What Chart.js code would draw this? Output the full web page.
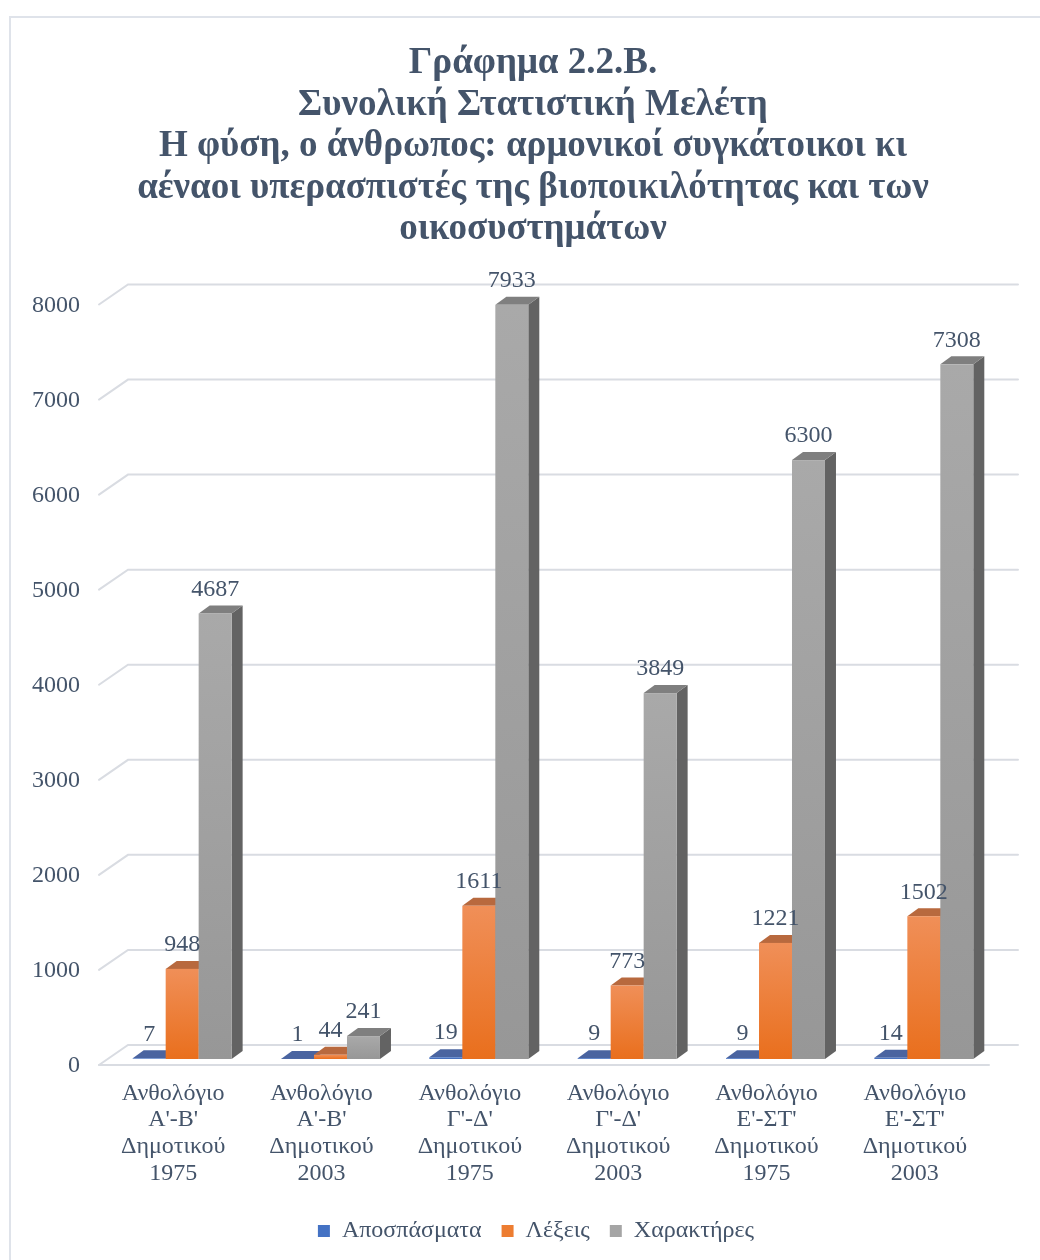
<!DOCTYPE html>
<html>
<head>
<meta charset="utf-8">
<script src="https://cdn.jsdelivr.net/npm/chart.js@4.4.1/dist/chart.umd.min.js"></script>
<style>
  html, body { margin: 0; padding: 0; background: #ffffff; overflow: hidden; }
  #frame { position: absolute; left: 9px; top: 16px; width: 1100px; height: 1300px;
           border-left: 2px solid #dfe3ea; border-top: 2px solid #dfe3ea; box-sizing: border-box; }
  #c { position: absolute; left: 0; top: 0; }
</style>
</head>
<body>
<div id="frame"></div>
<canvas id="c" width="1040" height="1260"></canvas>
<script>
const titleLines = [
  "Γράφημα 2.2.Β.",
  "Συνολική Στατιστική Μελέτη",
  "Η φύση, ο άνθρωπος: αρμονικοί συγκάτοικοι κι",
  "αέναοι υπερασπιστές της βιοποικιλότητας και των",
  "οικοσυστημάτων"
];
const categories = [
  ["Ανθολόγιο", "Α'-Β'", "Δημοτικού", "1975"],
  ["Ανθολόγιο", "Α'-Β'", "Δημοτικού", "2003"],
  ["Ανθολόγιο", "Γ'-Δ'", "Δημοτικού", "1975"],
  ["Ανθολόγιο", "Γ'-Δ'", "Δημοτικού", "2003"],
  ["Ανθολόγιο", "Ε'-ΣΤ'", "Δημοτικού", "1975"],
  ["Ανθολόγιο", "Ε'-ΣΤ'", "Δημοτικού", "2003"]
];
const seriesNames = ["Αποσπάσματα", "Λέξεις", "Χαρακτήρες"];
const apospasmata = [7, 1, 19, 9, 9, 14];
const lexeis = [948, 44, 1611, 773, 1221, 1502];
const xaraktires = [4687, 241, 7933, 3849, 6300, 7308];
const yMax = 8000;
const yStep = 1000;

const TEXT = '#44546a';
const SERIF = '"Liberation Serif", "Times New Roman", serif';

// colour sets: legend, front top, front bottom, top face, side face
const palette = [
  { legend: '#4472c4', f1: '#5b84cf', f2: '#3f68b5', top: '#4a64a0', side: '#34518a' },
  { legend: '#ed7d31', f1: '#f08f58', f2: '#e96f1d', top: '#b8693e', side: '#a8521c' },
  { legend: '#a5a5a5', f1: '#a9a9a9', f2: '#979797', top: '#7f7f7f', side: '#636363' }
];

const DX = 11, DY = -8;          // bar depth
const WX = 20, WY = -14;         // bar plane -> back wall
const FX = -9, FY = 6;           // bar plane -> front floor edge

const shiftBlocks = {
  id: 'shiftBlocks',
  afterLayout(chart) {
    if (chart.titleBlock) { chart.titleBlock.left = 68; }
    if (chart.legend) { chart.legend.left = 74; }
  }
};

const bars3d = {
  id: 'bars3d',
  beforeDatasetsDraw(chart) {
    const ctx = chart.ctx;
    const ys = chart.scales.y;
    const L = chart.chartArea.left, R = chart.chartArea.right;
    ctx.save();
    ctx.strokeStyle = '#d9dce2';
    ctx.lineWidth = 2;
    ctx.lineCap = 'round';
    for (let v = 0; v <= yMax; v += yStep) {
      const y = ys.getPixelForValue(v);
      ctx.beginPath();
      ctx.moveTo(L + FX, y + FY);
      ctx.lineTo(L + WX, y + WY);
      ctx.lineTo(R + WX, y + WY);
      ctx.stroke();
    }
    const y0 = ys.getPixelForValue(0);
    ctx.beginPath();
    ctx.moveTo(L + FX, y0 + FY);
    ctx.lineTo(R + FX, y0 + FY);
    ctx.stroke();

    const metas = chart.data.datasets.map((d, i) => chart.getDatasetMeta(i));
    const n = chart.data.labels.length;
    for (let i = 0; i < n; i++) {
      metas.forEach((meta, d) => {
        const bar = meta.data[i];
        const p = palette[d];
        const w = bar.width;
        const l = bar.x - w / 2, r = bar.x + w / 2;
        const top = bar.y, base = bar.base;
        ctx.fillStyle = p.side;
        ctx.beginPath();
        ctx.moveTo(r, top);
        ctx.lineTo(r + DX, top + DY);
        ctx.lineTo(r + DX, base + DY);
        ctx.lineTo(r, base);
        ctx.closePath();
        ctx.fill();
        ctx.fillStyle = p.top;
        ctx.beginPath();
        ctx.moveTo(l, top);
        ctx.lineTo(l + DX, top + DY);
        ctx.lineTo(r + DX, top + DY);
        ctx.lineTo(r, top);
        ctx.closePath();
        ctx.fill();
        const g = ctx.createLinearGradient(0, top, 0, base);
        g.addColorStop(0, p.f1);
        g.addColorStop(1, p.f2);
        ctx.fillStyle = g;
        ctx.fillRect(l, top, w, base - top);
      });
    }
    ctx.fillStyle = TEXT;
    ctx.font = '24px ' + SERIF;
    ctx.textAlign = 'center';
    ctx.textBaseline = 'middle';
    metas.forEach((meta, d) => {
      const vals = chart.data.datasets[d].data;
      meta.data.forEach((bar, i) => {
        ctx.fillText(String(vals[i]), bar.x, bar.y - 24);
      });
    });
    ctx.restore();
    return false;
  }
};

new Chart(document.getElementById('c'), {
  type: 'bar',
  data: {
    labels: categories,
    datasets: [
      { label: seriesNames[0], data: apospasmata, backgroundColor: palette[0].legend, borderWidth: 0 },
      { label: seriesNames[1], data: lexeis, backgroundColor: palette[1].legend, borderWidth: 0 },
      { label: seriesNames[2], data: xaraktires, backgroundColor: palette[2].legend, borderWidth: 0 }
    ]
  },
  options: {
    responsive: false,
    devicePixelRatio: 1,
    animation: false,
    layout: { padding: { left: 0, right: 42, top: 0, bottom: 7 } },
    datasets: { bar: { categoryPercentage: 0.667, barPercentage: 1.0 } },
    plugins: {
      title: {
        display: true,
        text: titleLines,
        color: TEXT,
        font: { family: SERIF, size: 37, weight: 'bold', lineHeight: 1.1216 },
        padding: { top: 43, bottom: 48 }
      },
      legend: {
        position: 'bottom',
        labels: {
          color: TEXT,
          font: { family: SERIF, size: 24 },
          boxWidth: 12,
          boxHeight: 12,
          padding: 20
        }
      },
      tooltip: { enabled: false }
    },
    scales: {
      x: {
        grid: { display: false, drawTicks: false },
        border: { display: false },
        ticks: {
          color: TEXT,
          font: { family: SERIF, size: 24, lineHeight: 1.11 },
          padding: 21,
          labelOffset: -9,
          maxRotation: 0,
          autoSkip: false
        },
        afterFit(s) { s.height = 140; s.paddingLeft = 0; s.paddingRight = 0; }
      },
      y: {
        min: 0,
        max: yMax,
        grid: { display: false, drawTicks: false },
        border: { display: false },
        ticks: {
          stepSize: yStep,
          color: TEXT,
          font: { family: SERIF, size: 24 },
          padding: 28,
          labelOffset: 7,
          callback: (v) => String(v)
        },
        afterFit(s) { s.width = 108; s.paddingTop = 0; s.paddingBottom = 0; }
      }
    }
  },
  plugins: [shiftBlocks, bars3d]
});
</script>
</body>
</html>
